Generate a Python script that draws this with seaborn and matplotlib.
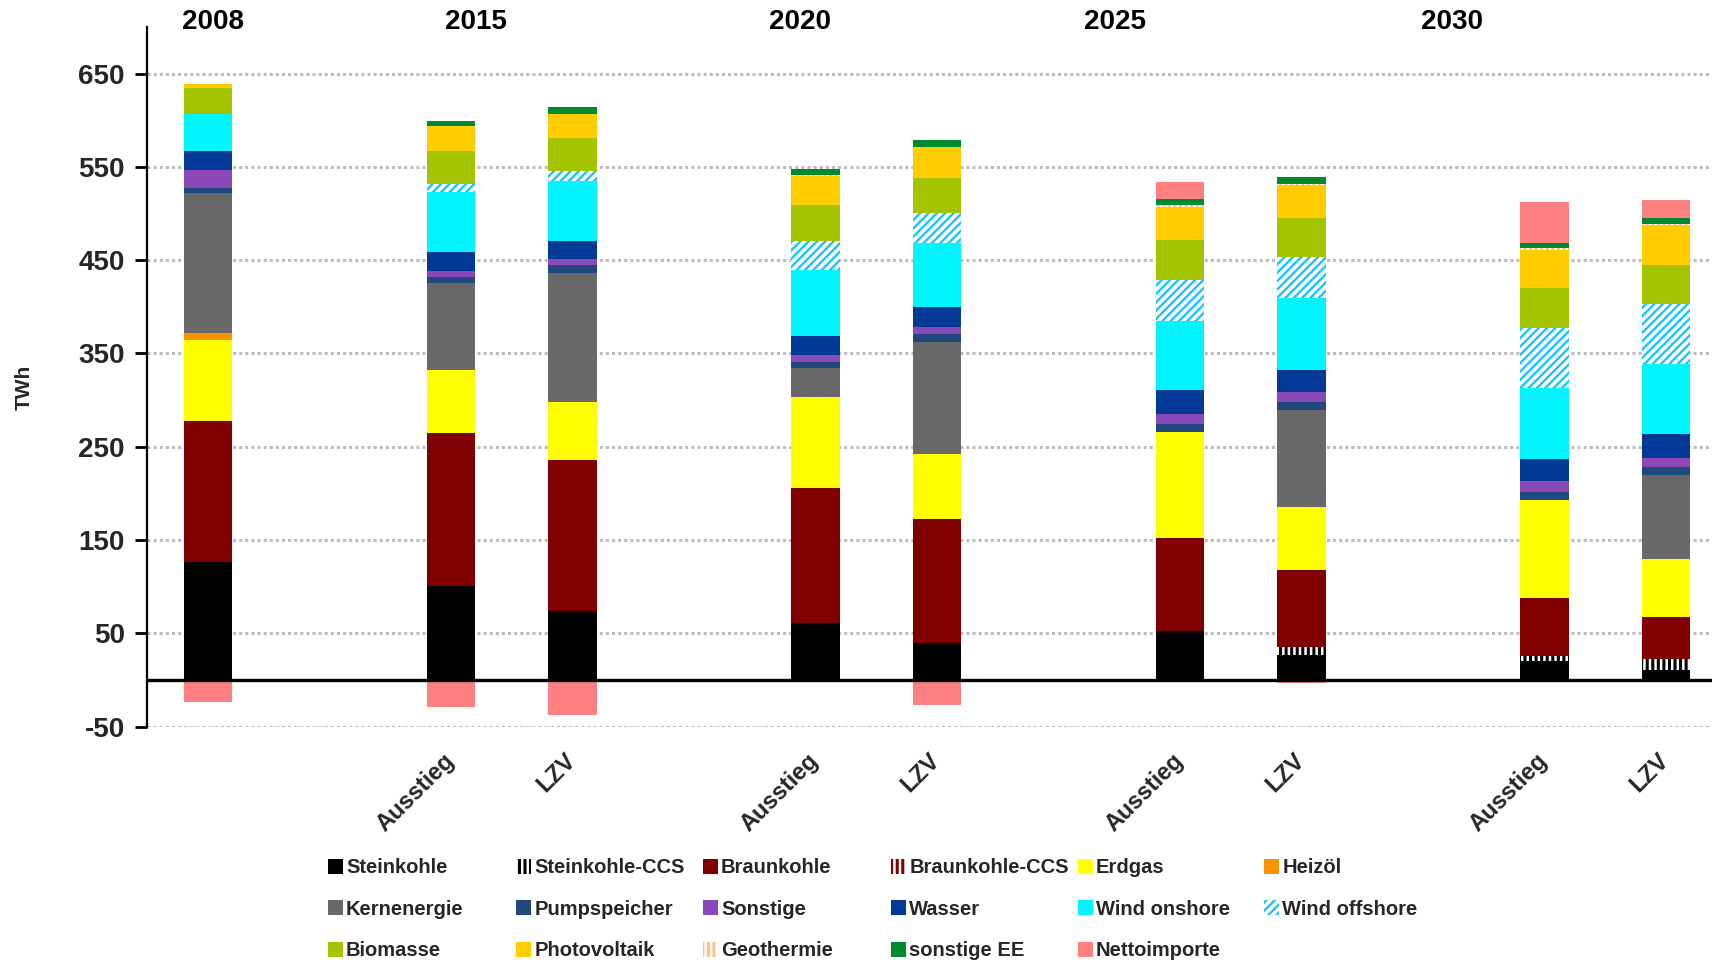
import numpy as np
import pandas as pd
import matplotlib
matplotlib.use("Agg")
import matplotlib.pyplot as plt
from matplotlib.patches import Patch
from matplotlib.transforms import blended_transform_factory
import seaborn as sns

# ---------------- data ----------------
slots = ['2008', 'g1', 'A2015', 'L2015', 'g2', 'A2020', 'L2020', 'g3',
         'A2025', 'L2025', 'g4', 'A2030', 'L2030']
categories = ['2008', 'A2015', 'L2015', 'A2020', 'L2020', 'A2025', 'L2025', 'A2030', 'L2030']
slot_tick_labels = ['', '', 'Ausstieg', 'LZV', '', 'Ausstieg', 'LZV', '',
                    'Ausstieg', 'LZV', '', 'Ausstieg', 'LZV']
year_labels = ['2008', '2015', '2020', '2025', '2030']
year_label_pos = [0.04, 2.21, 4.87, 7.47, 10.24]

steinkohle     = [126.6, 100.4, 74.5, 61.6, 40.0, 52.1, 27.0, 20.8, 10.8]
steinkohle_ccs = [0.0, 0.0, 0.0, 0.0, 0.0, 1.0, 7.9, 5.0, 11.9]
braunkohle     = [150.9, 164.4, 161.3, 143.7, 132.2, 99.6, 82.6, 61.8, 44.9]
braunkohle_ccs = [0.0, 0.0, 0.0, 0.0, 0.0, 0.0, 0.0, 0.0, 0.0]
erdgas         = [86.6, 67.8, 62.2, 98.1, 70.5, 113.5, 68.3, 104.9, 61.8]
heizoel        = [8.2, 0.0, 0.0, 0.0, 0.0, 0.0, 0.0, 0.0, 0.0]
kernenergie    = [149.3, 92.9, 138.6, 30.7, 120.0, 0.0, 103.5, 0.0, 90.2]
pumpspeicher   = [5.4, 6.8, 8.2, 6.4, 8.2, 8.6, 9.0, 8.6, 8.6]
sonstige       = [19.3, 6.4, 6.4, 8.2, 7.9, 10.8, 10.0, 12.6, 10.1]
wasser         = [20.7, 19.6, 19.6, 20.4, 20.7, 25.2, 24.3, 23.4, 25.1]
wind_onshore   = [39.6, 65.0, 64.3, 70.7, 68.6, 74.0, 76.4, 75.8, 75.7]
wind_offshore  = [0.0, 7.9, 10.0, 31.0, 32.9, 43.6, 43.9, 64.3, 63.6]
biomasse       = [27.5, 35.7, 35.7, 38.2, 37.1, 42.9, 42.1, 42.5, 42.5]
photovoltaik   = [4.6, 26.4, 25.7, 31.4, 32.9, 35.4, 36.0, 41.4, 42.1]
geothermie     = [0.5, 0.5, 0.3, 1.0, 0.5, 2.0, 1.0, 1.4, 1.8]
sonstige_ee    = [0.0, 5.4, 7.1, 6.0, 7.1, 6.4, 7.1, 6.4, 6.4]
nettoimporte   = [-24.0, -28.4, -37.7, 0.7, -27.0, 18.6, -3.0, 43.9, 19.3]

series_names = ['Steinkohle', 'Steinkohle-CCS', 'Braunkohle', 'Braunkohle-CCS', 'Erdgas',
                'Heizöl', 'Kernenergie', 'Pumpspeicher', 'Sonstige', 'Wasser',
                'Wind onshore', 'Wind offshore', 'Biomasse', 'Photovoltaik', 'Geothermie',
                'sonstige EE', 'Nettoimporte']
series_values = [steinkohle, steinkohle_ccs, braunkohle, braunkohle_ccs, erdgas, heizoel,
                 kernenergie, pumpspeicher, sonstige, wasser, wind_onshore, wind_offshore,
                 biomasse, photovoltaik, geothermie, sonstige_ee, nettoimporte]

# style per series: (facecolor, hatchcolor, hatch, hatch linewidth)
styles = {
    'Steinkohle':     ('#000000', '#000000', None, 1.0),
    'Steinkohle-CCS': ('#FFFFFF', '#000000', '|||', 2.2),
    'Braunkohle':     ('#800000', '#800000', None, 1.0),
    'Braunkohle-CCS': ('#FFFFFF', '#800000', '|||', 2.2),
    'Erdgas':         ('#FFFF00', '#FFFF00', None, 1.0),
    'Heizöl':         ('#F79400', '#F79400', None, 1.0),
    'Kernenergie':    ('#696969', '#696969', None, 1.0),
    'Pumpspeicher':   ('#1F497D', '#1F497D', None, 1.0),
    'Sonstige':       ('#8A48B8', '#8A48B8', None, 1.0),
    'Wasser':         ('#003A96', '#003A96', None, 1.0),
    'Wind onshore':   ('#00F5FF', '#00F5FF', None, 1.0),
    'Wind offshore':  ('#FFFFFF', '#19C3FF', '////', 1.7),
    'Biomasse':       ('#A5C400', '#A5C400', None, 1.0),
    'Photovoltaik':   ('#FFCC00', '#FFCC00', None, 1.0),
    'Geothermie':     ('#FFFFFF', '#FAC090', '|||', 2.2),
    'sonstige EE':    ('#008A2E', '#008A2E', None, 1.0),
    'Nettoimporte':   ('#FF8080', '#FF8080', None, 1.0),
}

# ---------------- figure ----------------
sns.set_theme(style='white')
plt.rcParams['font.family'] = ['Liberation Sans', 'DejaVu Sans']
plt.rcParams['font.weight'] = 'bold'

fig = plt.figure(figsize=(17.12, 9.6), dpi=100)
ax = fig.add_axes([0.0859, 0.243, 0.9141, 0.729])

bar_width = 0.40
pos_bottom = np.zeros(len(categories))
for name, vals in zip(series_names, series_values):
    vals = np.asarray(vals, dtype=float)
    fc, hc, hatch, hlw = styles[name]
    plt.rcParams['hatch.linewidth'] = hlw
    if name == 'Nettoimporte':
        bottoms = np.where(vals >= 0, pos_bottom, 0.0)
    else:
        bottoms = pos_bottom.copy()
    df = pd.DataFrame({'cat': categories, 'val': vals})
    n_before = len(ax.patches)
    sns.barplot(data=df, x='cat', y='val', order=slots, bottom=bottoms,
                color=fc, saturation=1, width=bar_width, errorbar=None,
                edgecolor=hc, linewidth=0, hatch=hatch, ax=ax, zorder=2)
    for p in ax.patches[n_before:]:
        if hasattr(p, 'set_hatch_linewidth'):
            p.set_hatch_linewidth(hlw)
    if name == 'Nettoimporte':
        pos_bottom = pos_bottom + np.where(vals > 0, vals, 0.0)
    else:
        pos_bottom = pos_bottom + vals

# axes styling
ax.set_xlim(-0.5, 12.38)
ax.set_ylim(-50, 700)
yticks = [-50, 50, 150, 250, 350, 450, 550, 650]
ax.set_yticks(yticks)
ax.set_yticklabels([str(t) for t in yticks], fontsize=20, fontweight='bold')
ax.set_xticks(range(len(slots)))
ax.set_xticklabels(slot_tick_labels, rotation=45, ha='right', va='center',
                   rotation_mode='anchor', fontsize=17, fontweight='bold')
ax.tick_params(axis='x', length=0, pad=22)
ax.tick_params(axis='y', length=9, width=2, pad=7, direction='out', left=True, color='black')
ax.set_xlabel('')
ax.set_ylabel('')
ax.set_axisbelow(True)
ax.yaxis.grid(True, color='#BDBDBD', linestyle=(0, (1, 1)), linewidth=2.2, zorder=0)
ax.xaxis.grid(False)
for s in ['top', 'right', 'bottom']:
    ax.spines[s].set_visible(False)
ax.spines['left'].set_color('black')
ax.spines['left'].set_linewidth(1.6)
ax.axhline(0, color='black', linewidth=2.4, zorder=3)

# year labels on top
trans = blended_transform_factory(ax.transData, fig.transFigure)
for lab, xp in zip(year_labels, year_label_pos):
    ax.text(xp, 0.977, lab, transform=trans, ha='center', va='center',
            fontsize=20, fontweight='bold', color='black')

fig.text(0.014, 0.596, 'TWh', rotation=90, ha='center', va='center',
         fontsize=15, fontweight='bold')

# legend in 6 fixed-width columns
def handle(name):
    fc, hc, hatch, hlw = styles[name]
    return Patch(facecolor=fc, edgecolor=hc, hatch=hatch, linewidth=0)

legend_cols = [
    ['Steinkohle', 'Kernenergie', 'Biomasse'],
    ['Steinkohle-CCS', 'Pumpspeicher', 'Photovoltaik'],
    ['Braunkohle', 'Sonstige', 'Geothermie'],
    ['Braunkohle-CCS', 'Wasser', 'sonstige EE'],
    ['Erdgas', 'Wind onshore', 'Nettoimporte'],
    ['Heizöl', 'Wind offshore'],
]
col_x = [0.1915, 0.3015, 0.4105, 0.5205, 0.6295, 0.7385]
for cx, names in zip(col_x, legend_cols):
    leg = fig.legend(handles=[handle(n) for n in names], labels=names,
                     loc='upper left', bbox_to_anchor=(cx, 0.106),
                     bbox_transform=fig.transFigure, frameon=False,
                     prop={'size': 14.5, 'weight': 'bold'},
                     handlelength=0.75, handleheight=0.75,
                     handletextpad=0.15, labelspacing=1.12, borderaxespad=0,
                     borderpad=0)
    for h, n in zip(leg.legend_handles, names):
        if hasattr(h, 'set_hatch_linewidth'):
            h.set_hatch_linewidth(styles[n][3])

plt.rcParams['hatch.linewidth'] = 2.2
fig.savefig('out.png', dpi=100)
